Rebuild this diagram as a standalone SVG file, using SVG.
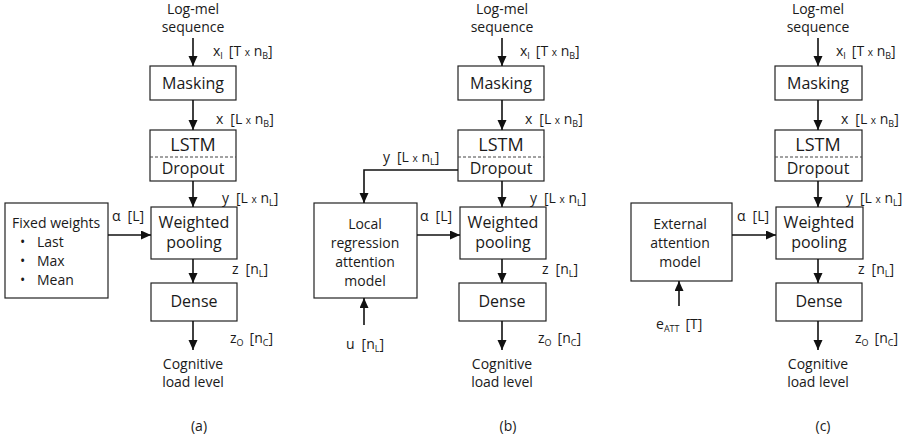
<svg xmlns="http://www.w3.org/2000/svg" width="905" height="439" viewBox="0 0 905 439">
<style>
text{font-family:"Open Sans","Liberation Sans",sans-serif;fill:#1a1a1a}
.box{fill:#fff;stroke:#222;stroke-width:1.2}
.dash{stroke:#444;stroke-width:1;stroke-dasharray:3,2}
.bl{font-size:16px;text-anchor:middle}
.big{font-size:18px;text-anchor:middle}
.lb{font-size:14px}
.ct{font-size:14px;text-anchor:middle}
.sm{font-size:10px}
.sb{font-size:9px}
.ar{stroke:#111;stroke-width:1.6;fill:none;marker-end:url(#ah)}
</style>
<defs>
<marker id="ah" markerUnits="userSpaceOnUse" markerWidth="11" markerHeight="10" refX="10" refY="4.5" orient="auto">
<path d="M0,0 L10,4.5 L0,9 z" fill="#111"/>
</marker>
</defs>

<!-- Panel (a) -->
<g id="a-input"><text class="ct" x="193" y="14">Log-mel</text><text class="ct" x="193" y="32">sequence</text></g>
<g id="a-masking"><rect class="box" x="150" y="66" width="86" height="34"/><text class="bl" x="193" y="89">Masking</text></g>
<g id="a-lstm"><rect class="box" x="150" y="130" width="86" height="51"/><line class="dash" x1="150" y1="157" x2="236" y2="157"/><text class="big" x="193" y="151">LSTM</text><text class="bl" x="193" y="174">Dropout</text></g>
<g id="a-pool"><rect class="box" x="151" y="207" width="86" height="52"/><text class="bl" x="194" y="228">Weighted</text><text class="bl" x="194" y="248">pooling</text></g>
<g id="a-dense"><rect class="box" x="151" y="283" width="86" height="38"/><text class="bl" x="194" y="307">Dense</text></g>
<g id="a-fixed"><rect class="box" x="5" y="203" width="103" height="95"/><text class="lb" x="12" y="228">Fixed weights</text>
<text class="lb" x="20" y="247">•</text><text class="lb" x="37" y="247">Last</text>
<text class="lb" x="20" y="266">•</text><text class="lb" x="37" y="266">Max</text>
<text class="lb" x="20" y="285">•</text><text class="lb" x="37" y="285">Mean</text></g>
<g id="a-output"><text class="ct" x="193" y="369">Cognitive</text><text class="ct" x="193" y="387">load level</text><text class="ct" x="199" y="431">(a)</text></g>

<!-- Panel (b) -->
<g id="b-input"><text class="ct" x="502" y="14">Log-mel</text><text class="ct" x="502" y="32">sequence</text></g>
<g id="b-masking"><rect class="box" x="458" y="66" width="86" height="34"/><text class="bl" x="501" y="89">Masking</text></g>
<g id="b-lstm"><rect class="box" x="458" y="130" width="86" height="51"/><line class="dash" x1="458" y1="157" x2="544" y2="157"/><text class="big" x="501" y="151">LSTM</text><text class="bl" x="501" y="174">Dropout</text></g>
<g id="b-pool"><rect class="box" x="460" y="207" width="86" height="52"/><text class="bl" x="503" y="228">Weighted</text><text class="bl" x="503" y="248">pooling</text></g>
<g id="b-dense"><rect class="box" x="459" y="283" width="87" height="38"/><text class="bl" x="502" y="307">Dense</text></g>
<g id="b-local"><rect class="box" x="314" y="203" width="103" height="95"/><text class="ct" x="365" y="229">Local</text><text class="ct" x="365" y="248">regression</text><text class="ct" x="365" y="267">attention</text><text class="ct" x="365" y="286">model</text></g>
<g id="b-output"><text class="ct" x="502" y="369">Cognitive</text><text class="ct" x="502" y="387">load level</text><text class="ct" x="508" y="431">(b)</text></g>

<!-- Panel (c) -->
<g id="c-input"><text class="ct" x="818" y="14">Log-mel</text><text class="ct" x="818" y="32">sequence</text></g>
<g id="c-masking"><rect class="box" x="775" y="66" width="87" height="34"/><text class="bl" x="818" y="89">Masking</text></g>
<g id="c-lstm"><rect class="box" x="775" y="130" width="87" height="51"/><line class="dash" x1="775" y1="157" x2="862" y2="157"/><text class="big" x="818" y="151">LSTM</text><text class="bl" x="818" y="174">Dropout</text></g>
<g id="c-pool"><rect class="box" x="776" y="207" width="87" height="52"/><text class="bl" x="819" y="228">Weighted</text><text class="bl" x="819" y="248">pooling</text></g>
<g id="c-dense"><rect class="box" x="776" y="283" width="86" height="38"/><text class="bl" x="819" y="307">Dense</text></g>
<g id="c-external"><rect class="box" x="631" y="203" width="101" height="78"/><text class="ct" x="680" y="229">External</text><text class="ct" x="680" y="248">attention</text><text class="ct" x="680" y="267">model</text></g>
<g id="c-output"><text class="ct" x="818" y="369">Cognitive</text><text class="ct" x="818" y="387">load level</text><text class="ct" x="823" y="431">(c)</text></g>

<!-- Connectors -->
<g id="connectors">
<line class="ar" x1="193" y1="38" x2="193" y2="66"/>
<line class="ar" x1="193" y1="100" x2="193" y2="130"/>
<line class="ar" x1="193" y1="181" x2="193" y2="207"/>
<line class="ar" x1="193" y1="259" x2="193" y2="283"/>
<line class="ar" x1="193" y1="321" x2="193" y2="350"/>
<line class="ar" x1="108" y1="235" x2="151" y2="235"/>

<line class="ar" x1="502" y1="38" x2="502" y2="66"/>
<line class="ar" x1="502" y1="100" x2="502" y2="130"/>
<line class="ar" x1="502" y1="181" x2="502" y2="207"/>
<line class="ar" x1="502" y1="259" x2="502" y2="283"/>
<line class="ar" x1="502" y1="321" x2="502" y2="350"/>
<line class="ar" x1="417" y1="235" x2="460" y2="235"/>
<polyline class="ar" points="458,170 364,170 364,203"/>
<line class="ar" x1="364" y1="325" x2="364" y2="298"/>

<line class="ar" x1="818" y1="38" x2="818" y2="66"/>
<line class="ar" x1="818" y1="100" x2="818" y2="130"/>
<line class="ar" x1="818" y1="181" x2="818" y2="207"/>
<line class="ar" x1="818" y1="259" x2="818" y2="283"/>
<line class="ar" x1="818" y1="321" x2="818" y2="350"/>
<line class="ar" x1="732" y1="235" x2="776" y2="235"/>
<line class="ar" x1="679" y1="306" x2="679" y2="281"/>

<!-- labels -->
<text class="lb" x="213" y="56">x<tspan class="sb" dy="3">I</tspan><tspan dy="-3" dx="6">[T </tspan><tspan class="sm">x</tspan> n<tspan class="sb" dy="3">B</tspan><tspan dy="-3">]</tspan></text>
<text class="lb" x="216" y="124">x<tspan dx="7">[L </tspan><tspan class="sm">x</tspan> n<tspan class="sb" dy="3">B</tspan><tspan dy="-3">]</tspan></text>
<text class="lb" x="222" y="203">y<tspan dx="7">[L </tspan><tspan class="sm">x</tspan> n<tspan class="sb" dy="3">L</tspan><tspan dy="-3">]</tspan></text>
<text class="lb" x="112" y="221">α<tspan dx="7">[L]</tspan></text>
<text class="lb" x="232" y="274">z<tspan dx="7">[n</tspan><tspan class="sb" dy="3">L</tspan><tspan dy="-3">]</tspan></text>
<text class="lb" x="230" y="343">z<tspan class="sb" dy="3">O</tspan><tspan dy="-3" dx="6">[n</tspan><tspan class="sb" dy="3">C</tspan><tspan dy="-3">]</tspan></text>

<text class="lb" x="520" y="56">x<tspan class="sb" dy="3">I</tspan><tspan dy="-3" dx="6">[T </tspan><tspan class="sm">x</tspan> n<tspan class="sb" dy="3">B</tspan><tspan dy="-3">]</tspan></text>
<text class="lb" x="525" y="124">x<tspan dx="7">[L </tspan><tspan class="sm">x</tspan> n<tspan class="sb" dy="3">B</tspan><tspan dy="-3">]</tspan></text>
<text class="lb" x="530" y="203">y<tspan dx="7">[L </tspan><tspan class="sm">x</tspan> n<tspan class="sb" dy="3">L</tspan><tspan dy="-3">]</tspan></text>
<text class="lb" x="383" y="162">y<tspan dx="7">[L </tspan><tspan class="sm">x</tspan> n<tspan class="sb" dy="3">L</tspan><tspan dy="-3">]</tspan></text>
<text class="lb" x="420" y="221">α<tspan dx="7">[L]</tspan></text>
<text class="lb" x="542" y="274">z<tspan dx="7">[n</tspan><tspan class="sb" dy="3">L</tspan><tspan dy="-3">]</tspan></text>
<text class="lb" x="538" y="343">z<tspan class="sb" dy="3">O</tspan><tspan dy="-3" dx="6">[n</tspan><tspan class="sb" dy="3">C</tspan><tspan dy="-3">]</tspan></text>
<text class="lb" x="346" y="349">u<tspan dx="7">[n</tspan><tspan class="sb" dy="3">L</tspan><tspan dy="-3">]</tspan></text>

<text class="lb" x="836" y="56">x<tspan class="sb" dy="3">I</tspan><tspan dy="-3" dx="6">[T </tspan><tspan class="sm">x</tspan> n<tspan class="sb" dy="3">B</tspan><tspan dy="-3">]</tspan></text>
<text class="lb" x="841" y="124">x<tspan dx="7">[L </tspan><tspan class="sm">x</tspan> n<tspan class="sb" dy="3">B</tspan><tspan dy="-3">]</tspan></text>
<text class="lb" x="846" y="203">y<tspan dx="7">[L </tspan><tspan class="sm">x</tspan> n<tspan class="sb" dy="3">L</tspan><tspan dy="-3">]</tspan></text>
<text class="lb" x="737" y="221">α<tspan dx="7">[L]</tspan></text>
<text class="lb" x="858" y="274">z<tspan dx="7">[n</tspan><tspan class="sb" dy="3">L</tspan><tspan dy="-3">]</tspan></text>
<text class="lb" x="855" y="343">z<tspan class="sb" dy="3">O</tspan><tspan dy="-3" dx="6">[n</tspan><tspan class="sb" dy="3">C</tspan><tspan dy="-3">]</tspan></text>
<text class="lb" x="656" y="329">e<tspan class="sb" dy="3">ATT</tspan><tspan dy="-3" dx="6">[T]</tspan></text>
</g>
</svg>
